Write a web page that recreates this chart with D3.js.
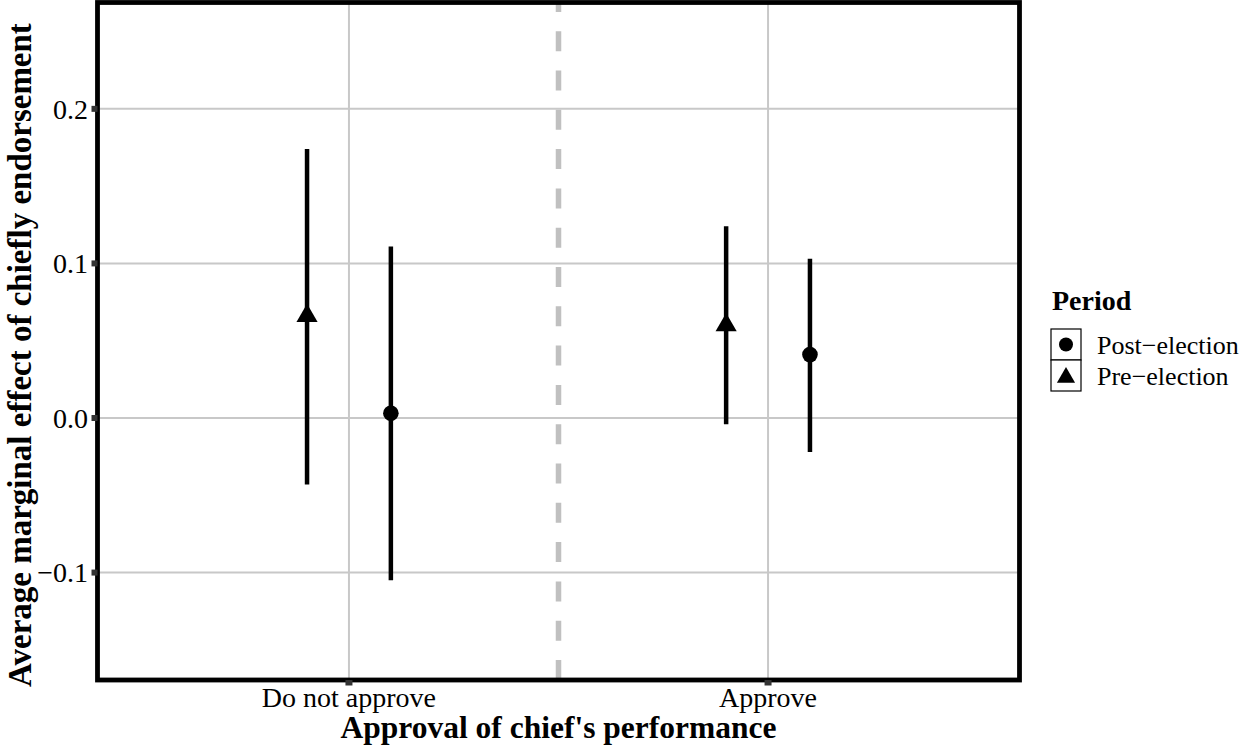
<!DOCTYPE html>
<html>
<head>
<meta charset="utf-8">
<script src="https://cdn.jsdelivr.net/npm/d3@7"></script>
<style>
  html, body { margin: 0; padding: 0; background: #fff; }
  svg { display: block; }
  text { font-family: "Liberation Serif", "Times New Roman", serif; }
</style>
</head>
<body>
<svg id="chart" width="1250" height="747"></svg>
<script>
// ---- data ----
const categories = ["Do not approve", "Approve"];
const periods = ["Pre\u2212election", "Post\u2212election"];
const legendOrder = ["Post\u2212election", "Pre\u2212election"];
const preEst = [0.066, 0.060];
const preLow = [-0.043, -0.004];
const preHigh = [0.174, 0.124];
const postEst = [0.003, 0.041];
const postLow = [-0.105, -0.022];
const postHigh = [0.111, 0.103];
const yTicks = [-0.1, 0.0, 0.1, 0.2];
const yTickLabels = ["\u22120.1", "0.0", "0.1", "0.2"];
const xTitle = "Approval of chief's performance";
const yTitle = "Average marginal effect of chiefly endorsement";
const legendTitle = "Period";

const rows = [];
categories.forEach((c, i) => {
  rows.push({cat: c, period: periods[0], est: preEst[i], lo: preLow[i], hi: preHigh[i]});
  rows.push({cat: c, period: periods[1], est: postEst[i], lo: postLow[i], hi: postHigh[i]});
});

// ---- layout ----
const svg = d3.select("#chart");
const P = {left: 97.5, right: 1019.5, top: 2.5, bottom: 680};

const x = d3.scalePoint().domain(categories).range([P.left, P.right]).padding(0.6);
const y = d3.scaleLinear().domain([-0.1695, 0.2688]).range([P.bottom, P.top]);
const dodge = d3.scalePoint().domain(periods).range([-0.1, 0.1]);
const step = x.step();

// gridlines
const grid = svg.append("g");
grid.selectAll("line.h").data(yTicks).join("line")
  .attr("x1", P.left).attr("x2", P.right)
  .attr("y1", d => y(d)).attr("y2", d => y(d))
  .attr("stroke", "#c8c8c8").attr("stroke-width", 2);
grid.selectAll("line.v").data(categories).join("line")
  .attr("x1", d => x(d)).attr("x2", d => x(d))
  .attr("y1", P.top).attr("y2", P.bottom)
  .attr("stroke", "#c8c8c8").attr("stroke-width", 2);

// dashed vertical separator (midpoint between categories)
const mid = (x(categories[0]) + x(categories[1])) / 2;
svg.append("line")
  .attr("x1", mid).attr("x2", mid)
  .attr("y1", P.bottom).attr("y2", P.top)
  .attr("stroke", "#c0c0c0").attr("stroke-width", 5.5)
  .attr("stroke-dasharray", "20,19.3");

// error bars
const marks = svg.append("g");
marks.selectAll("line.err").data(rows).join("line")
  .attr("x1", d => x(d.cat) + dodge(d.period) * step)
  .attr("x2", d => x(d.cat) + dodge(d.period) * step)
  .attr("y1", d => y(d.lo)).attr("y2", d => y(d.hi))
  .attr("stroke", "#000").attr("stroke-width", 4.5);

function triPath(r) {
  const xc = r * Math.sqrt(3) / 2;
  return `M0,${-r}L${xc},${r / 2}L${-xc},${r / 2}Z`;
}

marks.selectAll("path.pt").data(rows.filter(d => d.period === periods[0])).join("path")
  .attr("d", triPath(12.2))
  .attr("transform", d => `translate(${x(d.cat) + dodge(d.period) * step},${y(d.est)})`)
  .attr("fill", "#000");
marks.selectAll("circle.pt").data(rows.filter(d => d.period === periods[1])).join("circle")
  .attr("cx", d => x(d.cat) + dodge(d.period) * step)
  .attr("cy", d => y(d.est))
  .attr("r", 7.8)
  .attr("fill", "#000");

// panel border
svg.append("rect")
  .attr("x", P.left).attr("y", P.top)
  .attr("width", P.right - P.left).attr("height", P.bottom - P.top)
  .attr("fill", "none").attr("stroke", "#000").attr("stroke-width", 4.8);

// ticks
svg.selectAll("line.yt").data(yTicks).join("line")
  .attr("x1", P.left - 6).attr("x2", P.left)
  .attr("y1", d => y(d)).attr("y2", d => y(d))
  .attr("stroke", "#333").attr("stroke-width", 6);
svg.selectAll("line.xt").data(categories).join("line")
  .attr("x1", d => x(d)).attr("x2", d => x(d))
  .attr("y1", P.bottom).attr("y2", P.bottom + 5.5)
  .attr("stroke", "#333").attr("stroke-width", 7);

// tick labels
svg.selectAll("text.yl").data(yTicks).join("text")
  .attr("x", 88).attr("y", d => y(d)).attr("dy", "0.35em")
  .attr("text-anchor", "end").attr("font-size", 28).attr("fill", "#000")
  .text((d, i) => yTickLabels[i]);
svg.selectAll("text.xl").data(categories).join("text")
  .attr("x", d => x(d)).attr("y", 707)
  .attr("text-anchor", "middle").attr("font-size", 28).attr("fill", "#000")
  .text(d => d);

// axis titles
svg.append("text")
  .attr("x", (P.left + P.right) / 2).attr("y", 738)
  .attr("text-anchor", "middle").attr("font-size", 31.5).attr("font-weight", "bold")
  .text(xTitle);
svg.append("text")
  .attr("transform", `translate(31,355) rotate(-90)`)
  .attr("text-anchor", "middle").attr("font-size", 33).attr("font-weight", "bold")
  .text(yTitle);

// legend
const lg = svg.append("g").attr("transform", "translate(1051,329)");
lg.append("text").attr("x", 1).attr("y", -19).attr("font-size", 28).attr("font-weight", "bold").text(legendTitle);
const keyH = 31;
const item = lg.selectAll("g.item").data(legendOrder).join("g")
  .attr("transform", (d, i) => `translate(0,${i * keyH})`);
item.append("rect").attr("width", 30).attr("height", keyH)
  .attr("fill", "#fff").attr("stroke", "#000").attr("stroke-width", 1.2);
item.each(function(d) {
  const g = d3.select(this);
  if (d === periods[0]) {
    g.append("path").attr("d", triPath(10.5)).attr("transform", `translate(15,${keyH / 2 + 2})`).attr("fill", "#000");
  } else {
    g.append("circle").attr("cx", 15).attr("cy", keyH / 2).attr("r", 7).attr("fill", "#000");
  }
});
item.append("text").attr("x", 46).attr("y", keyH / 2).attr("dy", "0.35em")
  .attr("font-size", 26).text(d => d);
</script>
</body>
</html>
